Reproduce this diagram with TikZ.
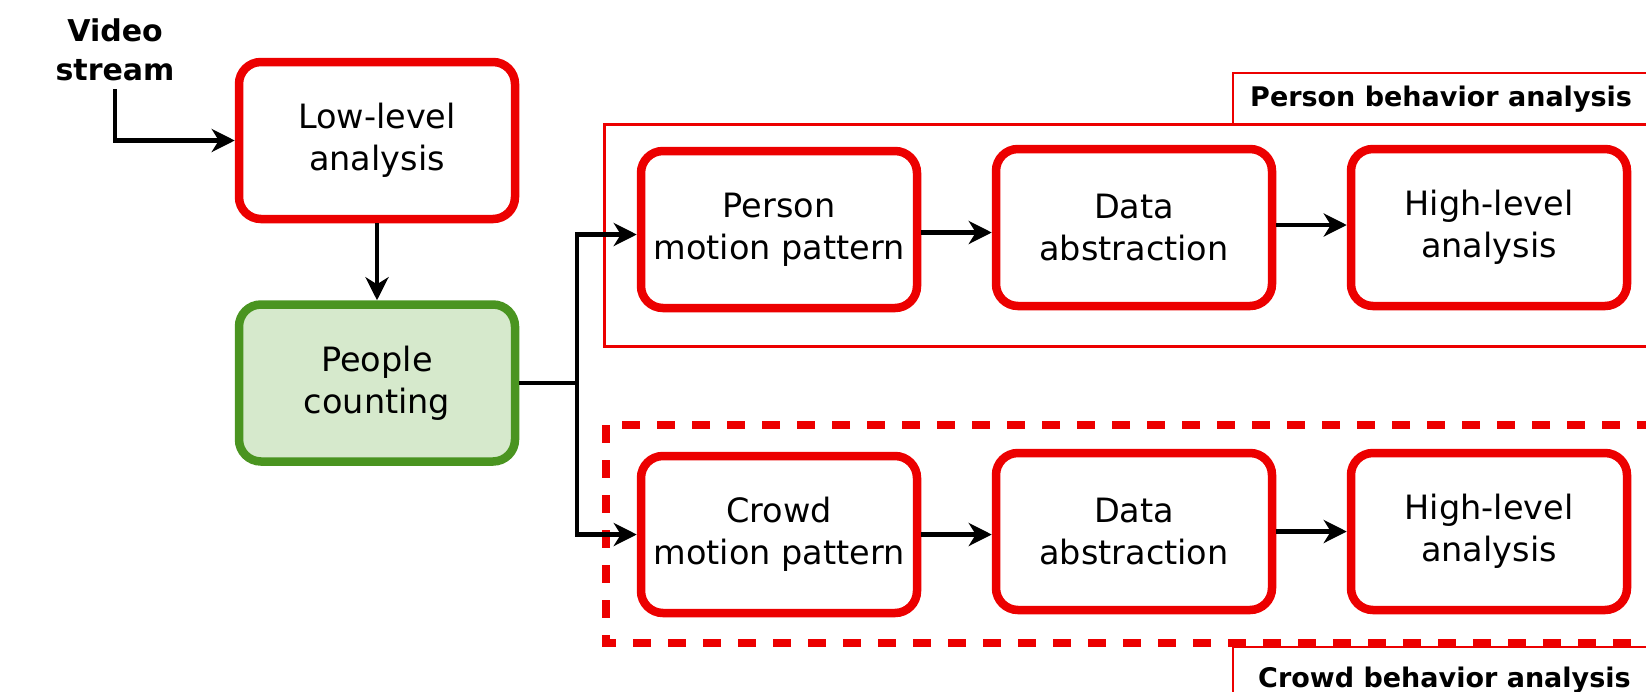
\documentclass[tikz,border=0pt]{standalone}
\usepackage{fontspec}
\setmainfont{DejaVu Sans}
\usetikzlibrary{arrows.meta}
\definecolor{boxred}{RGB}{236,0,0}
\definecolor{cntgreen}{RGB}{74,148,32}
\definecolor{cntfill}{RGB}{214,233,204}
\begin{document}
\begin{tikzpicture}[x=1pt,y=-1pt,
  proc/.style={draw=boxred, line width=8.5pt, rounded corners=22pt, minimum width=276pt, minimum height=157pt, align=center, inner sep=0pt, font=\fontsize{33.5}{42}\selectfont},
  cnt/.style={proc, draw=cntgreen, fill=cntfill},
  flow/.style={draw=black, line width=4.5pt, -{Stealth[length=23pt,width=23pt,inset=7pt]}},
  lbl/.style={font=\bfseries\fontsize{27}{30}\selectfont, inner sep=0pt, anchor=west},
  frameline/.style={draw=boxred, line width=3pt},
  tagline/.style={draw=boxred, line width=1.5pt}]
\path[use as bounding box] (0,0) rectangle (1646,691);
\clip (0,0) rectangle (1646,691);

% frames
\draw[frameline] (604,124) rectangle (1700,346);
\draw[tagline] (1233,73) rectangle (1700,124);
\node[lbl] (tagp) at (1250,99) {Person behavior analysis};

\draw[boxred, line width=8.5pt, dash pattern=on 18pt off 17pt] (606,425) rectangle (1700,643);
\draw[tagline] (1233,647) rectangle (1700,720);
\node[lbl] (tagc) at (1258,680) {Crowd behavior analysis};

% input label
\node[font=\bfseries\fontsize{30}{39}\selectfont, align=center, inner sep=0pt] (vs) at (115,50) {Video\\stream};
\coordinate (vsout) at ([yshift=-8pt]vs.south);

% boxes
\node[proc] (low) at (377,140.5) {Low-level\\analysis};
\node[cnt] (people) at (377,383) {People\\counting};

\node[proc] (pm) at (779,229.5) {Person\\motion pattern};
\node[proc] (da1) at (1134,227.5) {Data\\abstraction};
\node[proc] (hl1) at (1489,227.5) {High-level\\analysis};

\node[proc] (cm) at (779,534.5) {Crowd\\motion pattern};
\node[proc] (da2) at (1134,531.5) {Data\\abstraction};
\node[proc] (hl2) at (1489,531.5) {High-level\\analysis};

% connectors
\draw[flow] (vsout) |- (low.west);
\draw[flow] (low) -- (people);
\coordinate (br) at (577,383);
\draw[line width=4.5pt] (people.east) -- (br);
\draw[flow] (br) |- ([yshift=-5pt]pm.west);
\draw[flow] (br) |- (cm.west);
\draw[flow] ([yshift=-3pt]pm.east) -- ([yshift=-3pt]pm.east -| da1.west);
\draw[flow] ([yshift=2.5pt]da1.east) -- ([yshift=2.5pt]da1.east -| hl1.west);
\draw[flow] (cm.east) -- (cm.east -| da2.west);
\draw[flow] (da2.east) -- (da2.east -| hl2.west);
\end{tikzpicture}
\end{document}
